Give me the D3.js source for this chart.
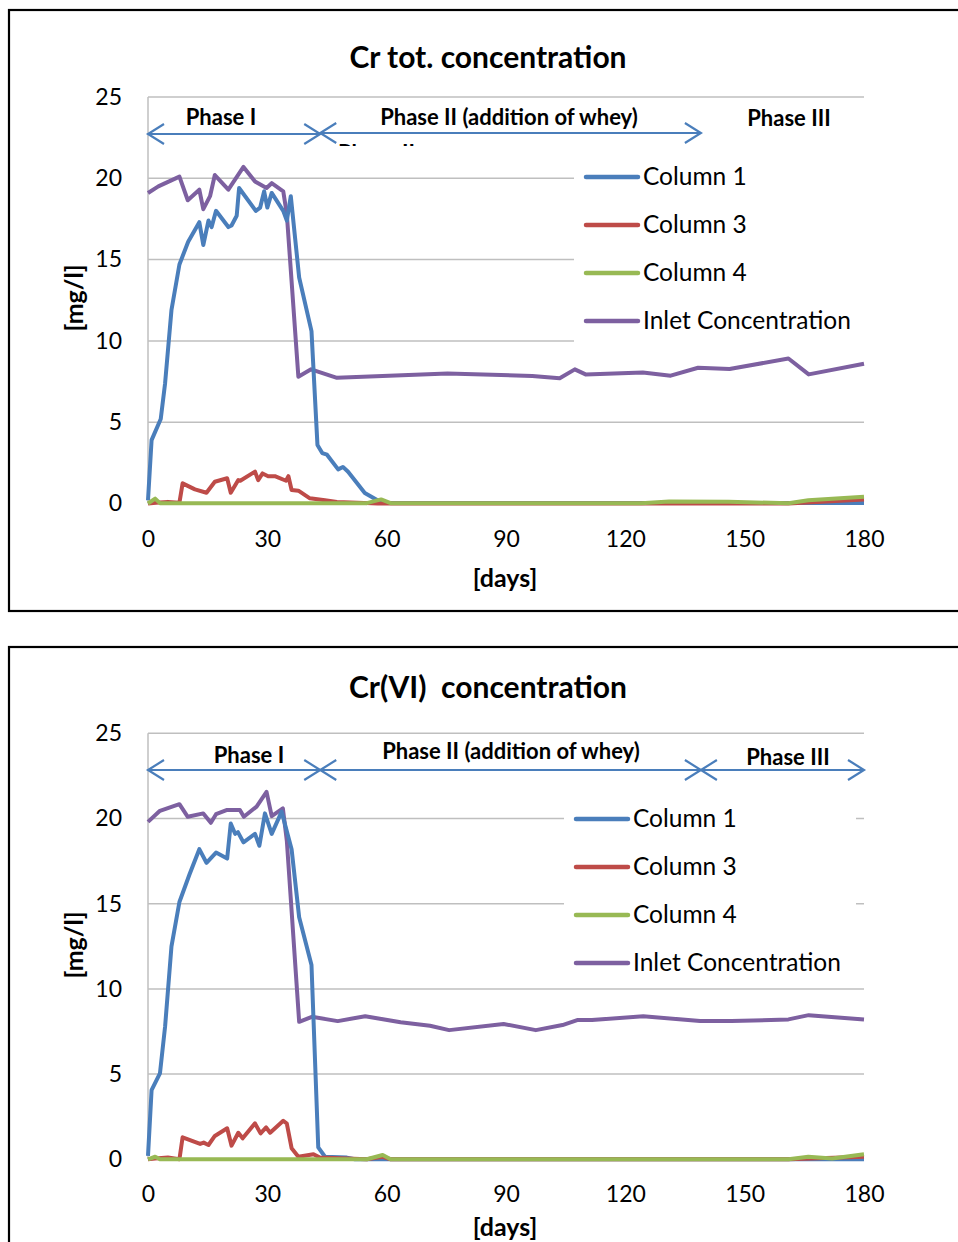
<!DOCTYPE html>
<html><head><meta charset="utf-8">
<script src="https://cdn.jsdelivr.net/npm/d3@7"></script>
<style>body{margin:0;background:#fff}svg{display:block}</style>
</head><body>
<svg id="c" width="958" height="1242"></svg>
<script>
// ---------- DATA ----------
const seriesNames = ["Column 1", "Column 3", "Column 4", "Inlet Concentration"];
const xTicks = [0, 30, 60, 90, 120, 150, 180];
const yTicks = [0, 5, 10, 15, 20, 25];
const titles = ["Cr tot. concentration", "Cr(VI)  concentration"];
const phaseLabels = ["Phase I", "Phase II (addition of whey)", "Phase III"];
const phaseBounds = [0, 43.3, 139, 180]; // days

// Cr tot. [day, mg/l]
const topCol1 = [[0,0.2],[0.9,3.9],[3.2,5.2],[4.3,7.4],[5.9,11.9],[7.9,14.7],[10.1,16.1],[12.9,17.3],[13.9,15.9],[15.2,17.4],[16,17.0],[17.1,18.0],[20.2,17.0],[21,17.1],[22.3,17.7],[22.9,19.4],[27.1,18.0],[28.2,18.2],[29.2,19.2],[30,18.2],[31.1,19.1],[34,18.0],[34.9,17.4],[35.9,18.9],[38,13.9],[41.1,10.6],[42.6,3.6],[43.8,3.1],[45,3.0],[47.8,2.1],[49,2.25],[50.3,1.95],[54.5,0.65],[57.7,0.2],[60,0.03],[180,0.03]];
const topCol3 = [[0,0],[2,0.05],[5,0.1],[7.9,0.05],[8.7,1.24],[11.8,0.87],[14.7,0.66],[16.8,1.34],[19.9,1.55],[20.8,0.66],[22.7,1.44],[23.2,1.4],[26.9,1.96],[27.7,1.44],[28.8,1.85],[30.2,1.68],[31.9,1.68],[34.7,1.4],[35.3,1.68],[36.1,0.83],[37.8,0.79],[40.7,0.32],[44.5,0.2],[47.5,0.1],[57.7,0],[161,0],[180,0.25]];
const topCol4 = [[0,0],[1.8,0.3],[3,0.02],[55,0.02],[58.6,0.25],[61,0.02],[124,0.02],[131,0.12],[146,0.1],[161,0.02],[166,0.2],[180,0.42]];
const topInlet = [[0,19.1],[2.6,19.5],[7.9,20.1],[10,18.65],[12.9,19.3],[13.9,18.1],[15.6,18.9],[16.8,20.2],[20.2,19.3],[24,20.7],[26.9,19.8],[29.8,19.4],[31.1,19.7],[34,19.2],[34.9,17.8],[37.8,7.8],[41,8.25],[47.5,7.73],[75.3,8.0],[96.6,7.84],[103.5,7.7],[107.3,8.25],[110,7.94],[124.4,8.06],[131.4,7.86],[138.3,8.35],[146.2,8.27],[161,8.92],[166.1,7.94],[180,8.6]];

// Cr(VI) [day, mg/l]
const botCol1 = [[0,0.2],[0.9,4.06],[3,5.04],[4.3,7.8],[5.9,12.5],[7.9,15.1],[10.4,16.7],[12.9,18.2],[14.7,17.4],[17.1,18.0],[19.9,17.65],[20.8,19.7],[21.9,19.1],[22.6,19.2],[24,18.6],[26.9,19.1],[28,18.4],[29.4,20.3],[31.1,19.1],[33.6,20.4],[36.1,18.2],[38,14.2],[41.1,11.4],[42.8,0.7],[44.5,0.15],[50,0.1],[52,0],[180,0]];
const botCol3 = [[0,0],[1.8,0.05],[5,0.1],[7.9,0],[8.7,1.29],[13.1,0.9],[14,0.98],[15.2,0.84],[16.8,1.37],[19.9,1.82],[21,0.8],[22.7,1.56],[23.8,1.23],[26.9,2.11],[28.3,1.52],[29.7,1.87],[30.7,1.56],[34,2.26],[34.9,2.1],[36.1,0.65],[37.8,0.15],[41.6,0.3],[43.2,0.1],[55,0],[59,0.15],[61,0],[161,0],[180,0.15]];
const botCol4 = [[0,0],[1.8,0.15],[3,0],[55,0],[59,0.25],[61,0],[161,0],[166,0.15],[172,0.05],[180,0.3]];
const botInlet = [[0,19.8],[3,20.45],[7.9,20.84],[10,20.1],[13.9,20.3],[15.8,19.75],[17.1,20.25],[19.9,20.5],[23.1,20.5],[24.1,20.1],[27.3,20.7],[29.8,21.56],[31.1,20.14],[33.9,20.6],[34.9,18.7],[38,8.07],[41.2,8.36],[47.7,8.11],[54.6,8.4],[63.5,8.04],[70.9,7.84],[75.7,7.58],[89.4,7.94],[97.5,7.58],[104.2,7.88],[107.9,8.17],[111.6,8.17],[124.5,8.4],[138.8,8.11],[146.7,8.11],[161,8.21],[166.1,8.46],[180,8.21]];

// ---------- STYLE ----------
const colors = {"Column 1":"#4a7ebb","Column 3":"#be4b48","Column 4":"#98b954","Inlet Concentration":"#7d60a0"};
const FONT = "Lato, 'Open Sans', sans-serif";
const svg = d3.select("#c");

function drawChart(o) {
  const g = svg.append("g");
  g.append("rect").attr("x", 9).attr("y", o.frameTop).attr("width", 960).attr("height", o.frameH)
    .attr("fill", "#fff").attr("stroke", "#000").attr("stroke-width", 2.2);

  const x = d3.scaleLinear().domain([0, 180]).range([148, 864]);
  const y = d3.scaleLinear().domain([0, 25]).range([o.bottom, o.top]);

  g.append("g").selectAll("line").data(yTicks.filter(d => d > 0)).join("line")
    .attr("x1", 148).attr("x2", 864).attr("y1", d => y(d)).attr("y2", d => y(d))
    .attr("stroke", "#bfbfbf").attr("stroke-width", 1.5);
  g.append("line").attr("x1", 148).attr("x2", 148).attr("y1", y(25)).attr("y2", y(0))
    .attr("stroke", "#bfbfbf").attr("stroke-width", 1.5);
  g.append("line").attr("x1", 148).attr("x2", 864).attr("y1", y(0)).attr("y2", y(0))
    .attr("stroke", "#bfbfbf").attr("stroke-width", 1.5);

  const ya = g.append("g").attr("transform", "translate(148,0)")
    .call(d3.axisLeft(y).tickValues(yTicks).tickSize(0).tickPadding(26));
  ya.select(".domain").remove();
  ya.selectAll("text").attr("font-family", FONT).attr("font-size", 23).attr("fill", "#000");
  const xa = g.append("g").attr("transform", `translate(0,${o.bottom})`)
    .call(d3.axisBottom(x).tickValues(xTicks).tickSize(0).tickPadding(o.xPad));
  xa.select(".domain").remove();
  xa.selectAll("text").attr("font-family", FONT).attr("font-size", 23).attr("fill", "#000");

  g.append("rect").attr("x", o.legX - 12).attr("y", o.legY - 22).attr("width", 292).attr("height", 190)
    .attr("fill", "#fff");

  const line = d3.line().x(d => x(d[0])).y(d => y(d[1]));
  const order = ["Inlet Concentration", "Column 1", "Column 3", "Column 4"];
  order.forEach(n => {
    g.append("path").datum(o.series[n]).attr("d", line).attr("fill", "none")
      .attr("stroke", colors[n]).attr("stroke-width", 4).attr("stroke-linejoin", "round");
  });

  seriesNames.forEach((n, i) => {
    const ly = o.legY + i * 48;
    g.append("line").attr("x1", o.legX).attr("x2", o.legX + 52).attr("y1", ly).attr("y2", ly)
      .attr("stroke", colors[n]).attr("stroke-width", 4.5).attr("stroke-linecap", "round");
    g.append("text").attr("x", o.legX + 57).attr("y", ly + 8).text(n)
      .attr("font-family", FONT).attr("font-size", 24.5).attr("fill", "#000");
  });

  g.append("text").attr("x", 488).attr("y", o.titleY).attr("text-anchor", "middle").text(o.title)
    .attr("font-family", FONT).attr("font-weight", "bold").attr("font-size", 30).attr("fill", "#000")
    .style("white-space", "pre").attr("xml:space", "preserve");
  g.append("text").attr("transform", `translate(83,${o.yTitleY}) rotate(-90)`).attr("text-anchor", "middle")
    .text("[mg/l]").attr("font-family", FONT).attr("font-weight", "bold").attr("font-size", 25);
  g.append("text").attr("x", 505).attr("y", o.xTitleY).attr("text-anchor", "middle")
    .text("[days]").attr("font-family", FONT).attr("font-weight", "bold").attr("font-size", 25);

  const ac = "#4a7ebb";
  o.arrows.forEach(a => {
    const x1 = x(phaseBounds[a.i]), x2 = x(phaseBounds[a.i + 1]);
    g.append("line").attr("x1", x1).attr("x2", x2).attr("y1", a.y).attr("y2", a.y)
      .attr("stroke", ac).attr("stroke-width", 2.2);
    [[x1, 1], [x2, -1]].forEach(([px, s]) => {
      g.append("path").attr("d", `M${px + s * 16},${a.y - 10}L${px},${a.y}L${px + s * 16},${a.y + 10}`)
        .attr("fill", "none").attr("stroke", ac).attr("stroke-width", 2.2);
    });
  });
  o.phaseText.forEach((p, i) => {
    g.append("text").attr("x", p[0]).attr("y", p[1]).attr("text-anchor", "middle").text(phaseLabels[i])
      .attr("font-family", FONT).attr("font-weight", "bold").attr("font-size", 22).attr("fill", "#000");
  });
  return g;
}

drawChart({
  frameTop: 10, frameH: 601, top: 97, bottom: 503.5, title: titles[0], titleY: 68, xPad: 27,
  yTitleY: 298, xTitleY: 587, legX: 586, legY: 177,
  series: {"Column 1": topCol1, "Column 3": topCol3, "Column 4": topCol4, "Inlet Concentration": topInlet},
  arrows: [{i: 0, y: 134}, {i: 1, y: 133}],
  phaseText: [[221, 125], [509, 125], [789, 126]]
});
svg.append("clipPath").attr("id", "hid").append("rect").attr("x", 330).attr("y", 137).attr("width", 120).attr("height", 9);
svg.append("text").attr("x", 338).attr("y", 161).text("Phase II").attr("clip-path", "url(#hid)")
  .attr("font-family", FONT).attr("font-weight", "bold").attr("font-size", 22);

drawChart({
  frameTop: 647, frameH: 700, top: 733.3, bottom: 1159.3, title: titles[1], titleY: 698, xPad: 26,
  yTitleY: 945, xTitleY: 1236, legX: 576, legY: 819,
  series: {"Column 1": botCol1, "Column 3": botCol3, "Column 4": botCol4, "Inlet Concentration": botInlet},
  arrows: [{i: 0, y: 770}, {i: 1, y: 770}, {i: 2, y: 770}],
  phaseText: [[249, 763], [511, 759], [788, 765]]
});
</script>
</body></html>
